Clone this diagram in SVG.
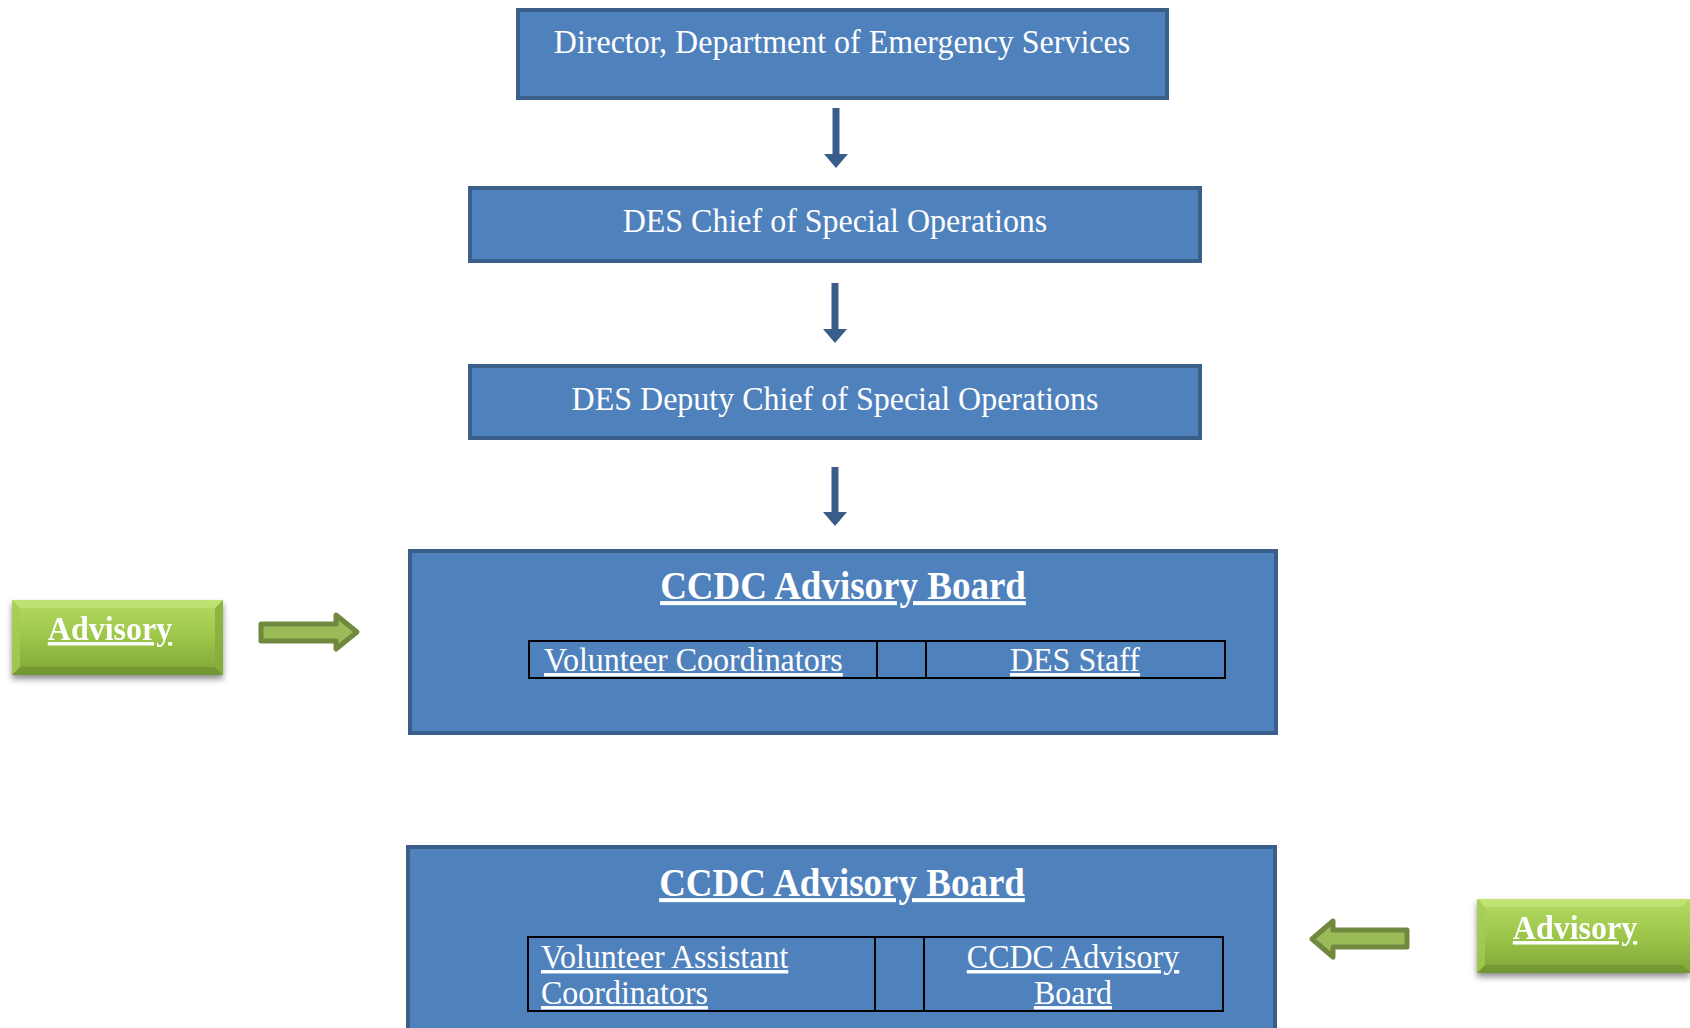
<svg xmlns="http://www.w3.org/2000/svg" width="1690" height="1028" viewBox="0 0 1690 1028">
<style>
.box{fill:#4F81BD;stroke:#3A5F8B;stroke-width:4}
.t{font-family:"Liberation Serif","Times New Roman",serif;fill:#fff;font-size:32px}
.h{font-family:"Liberation Serif","Times New Roman",serif;fill:#fff;font-size:37px;font-weight:bold;text-decoration:underline}
.u{text-decoration:underline}
.cell{fill:none;stroke:#000;stroke-width:2}
.adv{font-family:"Liberation Serif","Times New Roman",serif;fill:#fff;font-size:32px;font-weight:bold;text-decoration:underline}
.conn{stroke:#385D8A;stroke-width:7;fill:none}
.garrow{fill:#9BBB59;stroke:#71893F;stroke-width:5;stroke-linejoin:round}
</style>
<defs>
<marker id="ah" markerUnits="userSpaceOnUse" markerWidth="26" markerHeight="26" refX="0" refY="0" orient="auto" viewBox="-2 -13 18 26" overflow="visible">
<path d="M0,-12 L14,0 L0,12 Z" fill="#385D8A"/>
</marker>
<linearGradient id="gg" x1="0" y1="0" x2="0" y2="1">
<stop offset="0" stop-color="#B4DA62"/>
<stop offset="0.5" stop-color="#9CC64A"/>
<stop offset="1" stop-color="#7FA537"/>
</linearGradient>
<filter id="sh" x="-10%" y="-10%" width="120%" height="140%">
<feGaussianBlur in="SourceAlpha" stdDeviation="3"/>
<feOffset dx="0" dy="4" result="b"/>
<feComponentTransfer><feFuncA type="linear" slope="0.45"/></feComponentTransfer>
<feMerge><feMergeNode/><feMergeNode in="SourceGraphic"/></feMerge>
</filter>
</defs>

<g id="director">
<rect class="box" x="518" y="10" width="649" height="88"/>
<text class="t" transform="translate(842,53) scale(1,1.07)" text-anchor="middle">Director, Department of Emergency Services</text>
</g>

<g id="chief">
<rect class="box" x="470" y="188" width="730" height="73"/>
<text class="t" transform="translate(835,232) scale(1,1.07)" text-anchor="middle">DES Chief of Special Operations</text>
</g>

<g id="deputy">
<rect class="box" x="470" y="366" width="730" height="72"/>
<text class="t" transform="translate(835,410) scale(1,1.07)" text-anchor="middle">DES Deputy Chief of Special Operations</text>
</g>

<g id="board1">
<rect class="box" x="410" y="551" width="866" height="182"/>
<text class="h" transform="translate(843,599) scale(1,1.1)" text-anchor="middle">CCDC Advisory Board</text>
<rect class="cell" x="529" y="641" width="696" height="37"/>
<line class="cell" x1="877" y1="641" x2="877" y2="678"/>
<line class="cell" x1="926" y1="641" x2="926" y2="678"/>
<text class="t u" transform="translate(544,671) scale(1,1.07)">Volunteer Coordinators</text>
<text class="t u" transform="translate(1075,671) scale(1,1.07)" text-anchor="middle">DES Staff</text>
</g>

<g id="board2">
<rect class="box" x="408" y="847" width="867" height="200"/>
<text class="h" transform="translate(842,896) scale(1,1.1)" text-anchor="middle">CCDC Advisory Board</text>
<rect class="cell" x="528" y="937" width="695" height="74"/>
<line class="cell" x1="875" y1="937" x2="875" y2="1011"/>
<line class="cell" x1="924" y1="937" x2="924" y2="1011"/>
<text class="t u" transform="translate(541,968) scale(1,1.07)">Volunteer Assistant</text>
<text class="t u" transform="translate(541,1004) scale(1,1.07)">Coordinators</text>
<text class="t u" transform="translate(1073,968) scale(1,1.07)" text-anchor="middle">CCDC Advisory</text>
<text class="t u" transform="translate(1073,1004) scale(1,1.07)" text-anchor="middle">Board</text>
</g>

<g id="advisory-left" filter="url(#sh)">
<rect x="12" y="600" width="211" height="75" fill="url(#gg)"/>
<path d="M12,600 L223,600 L215,608 L20,608 Z" fill="#C3E57A" opacity="0.8"/>
<path d="M12,675 L223,675 L215,667 L20,667 Z" fill="#6E9030" opacity="0.7"/>
<path d="M12,600 L20,608 L20,667 L12,675 Z" fill="#A5CC55" opacity="0.8"/>
<path d="M223,600 L215,608 L215,667 L223,675 Z" fill="#86AC3D" opacity="0.8"/>
<text class="adv" transform="translate(110,640) scale(1,1.08)" text-anchor="middle">Advisory</text>
</g>

<g id="advisory-right" filter="url(#sh)">
<rect x="1477" y="899" width="213" height="74" fill="url(#gg)"/>
<path d="M1477,899 L1690,899 L1682,907 L1485,907 Z" fill="#C3E57A" opacity="0.8"/>
<path d="M1477,973 L1690,973 L1682,965 L1485,965 Z" fill="#6E9030" opacity="0.7"/>
<path d="M1477,899 L1485,907 L1485,965 L1477,973 Z" fill="#A5CC55" opacity="0.8"/>
<text class="adv" transform="translate(1575,939) scale(1,1.08)" text-anchor="middle">Advisory</text>
</g>

<g id="connectors">
<line class="conn" x1="836" y1="108" x2="836" y2="154" marker-end="url(#ah)"/>
<line class="conn" x1="835" y1="283" x2="835" y2="329" marker-end="url(#ah)"/>
<line class="conn" x1="835" y1="467" x2="835" y2="512" marker-end="url(#ah)"/>
<path class="garrow" d="M261,624 L336,624 L336,615 L357,632 L336,649 L336,641 L261,641 Z"/>
<path class="garrow" d="M1407,930 L1333,930 L1333,921 L1312,939 L1333,957 L1333,947 L1407,947 Z"/>
</g>
</svg>
